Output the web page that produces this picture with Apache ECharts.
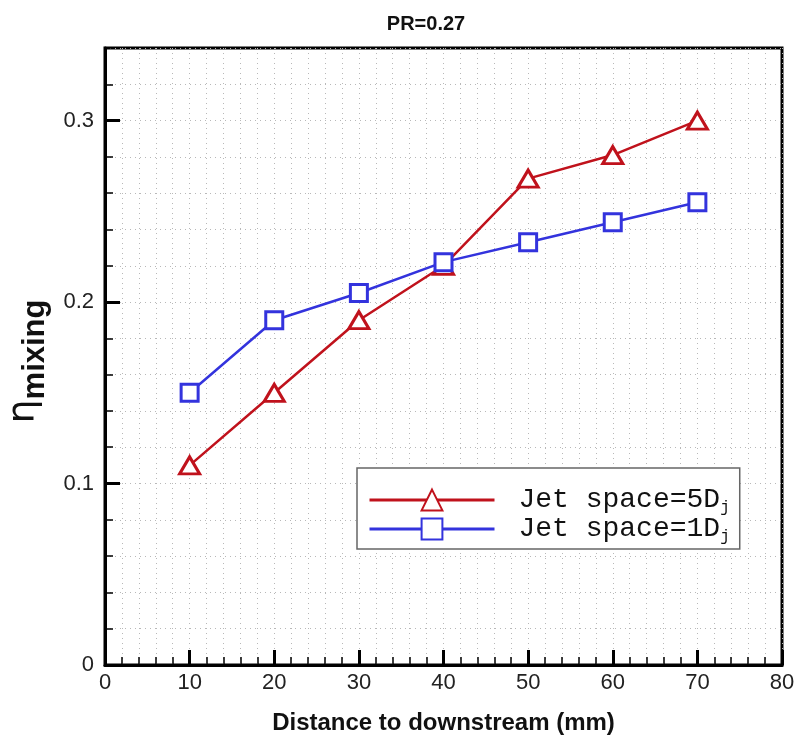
<!DOCTYPE html>
<html><head><meta charset="utf-8">
<script src="https://cdn.jsdelivr.net/npm/echarts@6/dist/echarts.min.js"></script>
<style>html,body{margin:0;padding:0;background:#fff}#c{width:796px;height:741px}</style>
</head><body><div id="c"></div>
<script>
const distances = [10, 20, 30, 40, 50, 60, 70];
const space5D = [0.110, 0.150, 0.190, 0.220, 0.268, 0.281, 0.300];
const space1D = [0.150, 0.190, 0.205, 0.222, 0.233, 0.244, 0.255];
const seriesNames = ['Jet space=5D', 'Jet space=1D'];
const titleText = 'PR=0.27';
const xName = 'Distance to downstream (mm)';

const chart = echarts.init(document.getElementById('c'), null, {renderer: 'canvas'});
const font = 'Liberation Sans, Arial, sans-serif';
const mono = 'Liberation Mono, Courier New, monospace';
const dotted = {color: '#b8b8b8', width: 1, type: [1, 4]};
const pair = (xs, ys) => xs.map((x, i) => [x, ys[i]]);

chart.setOption({
  animation: false,
  backgroundColor: '#fff',
  title: {
    text: titleText, left: 421, top: 9, textAlign: 'center',
    textStyle: {fontFamily: font, fontWeight: 'bold', fontSize: 20, color: '#111'}
  },
  grid: {left: 105, right: 14, top: 48, bottom: 76, show: true, borderColor: '#000', borderWidth: 3,
         backgroundColor: 'transparent', outerBoundsMode: 'none', containLabel: false},
  legend: {
    orient: 'vertical', left: 357, top: 468,
    padding: [18, 10, 4, 11], itemGap: -1,
    itemWidth: 125, itemHeight: 26,
    backgroundColor: '#fff', borderColor: '#666', borderWidth: 1.5,
    lineStyle: {width: 3},
    formatter: n => '{a|' + n + '}{s|j}',
    textStyle: {
      rich: {
        a: {fontFamily: mono, fontSize: 28, color: '#111', padding: [0, 0, 0, 19]},
        s: {fontFamily: mono, fontSize: 16, color: '#111', padding: [16, 0, 0, 0]}
      }
    },
    data: seriesNames
  },
  xAxis: {
    type: 'value', min: 0, max: 80, interval: 10,
    name: xName, nameLocation: 'middle', nameGap: 46,
    nameTextStyle: {fontFamily: font, fontWeight: 'bold', fontSize: 24, color: '#111'},
    axisLine: {show: true, onZero: false, lineStyle: {color: '#000', width: 3}},
    axisTick: {show: true, inside: true, length: 15, lineStyle: {color: '#000', width: 3}},
    minorTick: {show: true, splitNumber: 5, length: 8, lineStyle: {color: '#000', width: 1.5}},
    axisLabel: {fontFamily: font, fontSize: 22, color: '#222', margin: 7},
    splitLine: {show: true, lineStyle: dotted},
    minorSplitLine: {show: true, lineStyle: dotted}
  },
  yAxis: [{
    type: 'value', min: 0, max: 0.34, interval: 0.1,
    name: '{e|η}{m|mixing}', nameLocation: 'middle', nameGap: 54, nameRotate: 90,
    nameTextStyle: {
      padding: [0, 10, 0, 0],
      rich: {
        e: {fontFamily: 'DejaVu Sans, sans-serif', fontSize: 38, color: '#111'},
        m: {fontFamily: font, fontWeight: 'bold', fontSize: 31, color: '#111', padding: [22, 0, 0, 0]}
      }
    },
    axisLine: {show: true, onZero: false, lineStyle: {color: '#000', width: 3}},
    axisTick: {show: true, inside: true, length: 15, lineStyle: {color: '#000', width: 3}},
    axisLabel: {fontFamily: font, fontSize: 22, color: '#222', margin: 11, showMaxLabel: false},
    splitLine: {show: false}
  }, {
    type: 'value', min: 0, max: 0.34, interval: 0.02, position: 'left',
    axisLine: {show: false},
    axisTick: {show: true, inside: true, length: 8, lineStyle: {color: '#000', width: 1.5}},
    axisLabel: {show: false},
    splitLine: {show: true, lineStyle: dotted}
  }],
  series: [{
    name: seriesNames[0], type: 'line', yAxisIndex: 0,
    data: pair(distances, space5D),
    symbol: 'triangle', symbolSize: [20, 17],
    lineStyle: {color: '#c0121c', width: 2.5},
    itemStyle: {color: '#fff', borderColor: '#c0121c', borderWidth: 3},
    z: 3
  }, {
    name: seriesNames[1], type: 'line', yAxisIndex: 0,
    data: pair(distances, space1D),
    symbol: 'rect', symbolSize: 17,
    lineStyle: {color: '#3333dd', width: 2.5},
    itemStyle: {color: '#fff', borderColor: '#3333dd', borderWidth: 3},
    z: 4
  }]
});
</script></body></html>
